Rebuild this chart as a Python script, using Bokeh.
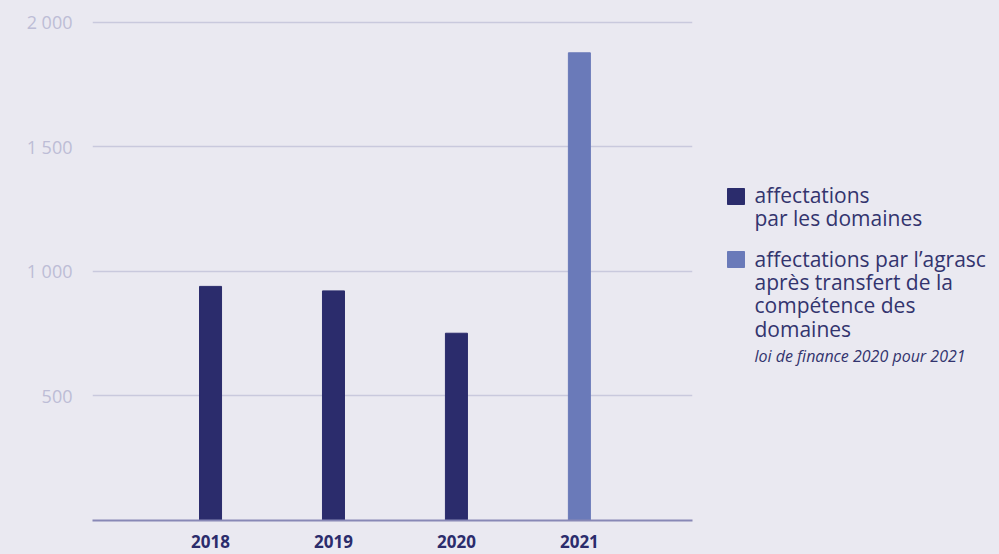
from bokeh.plotting import figure
from bokeh.models import Range1d, FixedTicker
from bokeh.layouts import row
from bokeh.core.properties import value
from bokeh.embed import file_html
from bokeh.resources import INLINE

# ---- data ----
years_domaines = [2018, 2019, 2020]
values_domaines = [940, 922, 752]
years_agrasc = [2021]
values_agrasc = [1878]
x_ticks = [2018, 2019, 2020, 2021]
x_tick_labels = ["2018", "2019", "2020", "2021"]
y_ticks = [500, 1000, 1500, 2000]
y_tick_labels = ["500", "1 000", "1 500", "2 000"]
legend1_lines = ["affectations", "par les domaines"]
legend2_lines = ["affectations par l\u2019agrasc", "apr\u00e8s transfert de la",
                 "comp\u00e9tence des", "domaines"]
legend2_note = "loi de finance 2020 pour 2021"

# ---- style ----
BG = "#EAE9F1"
DARK = "#2B2C6C"
LIGHT = "#6A7AB9"
GRID = "#C9C9DD"
BASE = "#8888B6"
TICK = "#BDBDD6"
TXT = "#33346E"
FONT = "Open Sans"

p = figure(width=700, height=554, output_backend="svg", toolbar_location=None,
           x_range=Range1d(2017.04, 2021.92), y_range=Range1d(0, 2088),
           min_border_left=92, min_border_right=8, min_border_top=0,
           min_border_bottom=34, background_fill_color=BG, border_fill_color=BG,
           outline_line_color=None)

p.vbar(x=years_domaines, top=values_domaines, width=0.179, color=DARK)
p.vbar(x=years_agrasc, top=values_agrasc, width=0.179, color=LIGHT)

# axes
p.xaxis.ticker = FixedTicker(ticks=x_ticks)
p.xaxis.major_label_overrides = dict(zip(x_ticks, x_tick_labels))
p.xaxis.axis_line_color = BASE
p.xaxis.axis_line_width = 2
p.xaxis.major_tick_line_color = None
p.xaxis.minor_tick_line_color = None
p.xaxis.major_label_standoff = 8
p.xaxis.major_label_text_font = FONT
p.xaxis.major_label_text_font_style = "bold"
p.xaxis.major_label_text_font_size = "17px"
p.xaxis.major_label_text_color = DARK

p.yaxis.ticker = FixedTicker(ticks=y_ticks)
p.yaxis.major_label_overrides = dict(zip(y_ticks, y_tick_labels))
p.yaxis.axis_line_color = None
p.yaxis.major_tick_line_color = None
p.yaxis.minor_tick_line_color = None
p.yaxis.major_label_standoff = 14
p.yaxis.major_label_text_font = FONT
p.yaxis.major_label_text_font_size = "18px"
p.yaxis.major_label_text_color = TICK

p.xgrid.grid_line_color = None
p.ygrid.ticker = FixedTicker(ticks=y_ticks)
p.ygrid.grid_line_color = GRID
p.ygrid.grid_line_width = 1.5

# ---- legend panel (pixel-like coordinates, y downward) ----
lg = figure(frame_width=299, frame_height=554, output_backend="svg", toolbar_location=None,
            x_range=Range1d(700, 999), y_range=Range1d(554, 0),
            min_border=0, x_axis_location=None, y_axis_location=None,
            background_fill_color=BG, border_fill_color=BG, outline_line_color=None)
lg.xgrid.grid_line_color = None
lg.ygrid.grid_line_color = None

lg.quad(left=[727], right=[744], top=[188], bottom=[204], color=DARK)
lg.quad(left=[727], right=[744], top=[251], bottom=[267], color=LIGHT)

lg.text(x=[754] * 2, y=[194, 217], text=legend1_lines,
        text_font=value(FONT), text_font_size="21px", text_color=TXT,
        text_baseline="alphabetic", text_align="left")
lg.text(x=[754] * 4, y=[258, 281, 304, 328], text=legend2_lines,
        text_font=value(FONT), text_font_size="21px", text_color=TXT,
        text_baseline="alphabetic", text_align="left")
lg.text(x=[754], y=[355], text=[legend2_note],
        text_font=value(FONT), text_font_size="16px", text_font_style="italic",
        text_color=TXT, text_baseline="alphabetic", text_align="left")

layout = row(p, lg, spacing=0)

html = file_html(layout, INLINE)
html = html.replace("<head>", "<head><style>html,body{margin:0;padding:0;background:" + BG + ";overflow:hidden}</style>", 1)
open("out.html", "w").write(html)
